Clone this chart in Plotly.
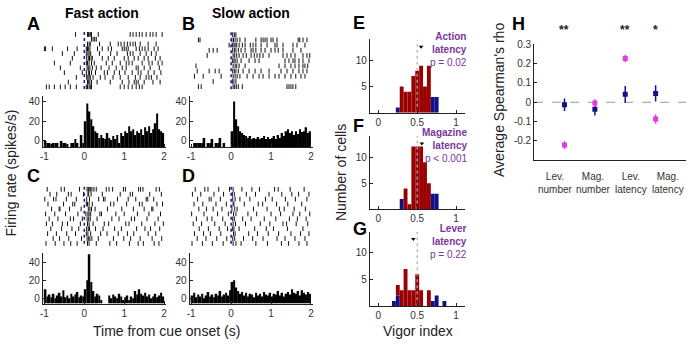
import plotly.graph_objects as go

# ---------------- data ----------------
PSTH_CENTERS = [round(-0.975 + 0.05 * i, 3) for i in range(60)]
PSTH_BASE = -6

psth_A = [0, -2, -2, -3, -2, -2, -2, -6, 0, -2, -2, -3, -6, -2, -2, 2, -2, -6, 6, -2,
          20, 38, 30, 22, 15, 10, 8, 3, 6, 3, 2, 8, 3, 1, 5, 2, 6, -2, 8, 5,
          10, 8, 15, 10, 12, 6, 10, 8, 12, 6, 14, 10, 15, 8, 12, 18, 28, 12, 10, 8]
psth_B = [-6, -2, -2, -2, -2, -2, 3, -6, -2, -2, 2, -6, -2, -2, 3, -6, -2, -6, -6, -6,
          10, 40, 22, 15, 10, 8, 6, 5, 3, 5, 2, 3, 2, 4, 2, 3, 5, 2, 4, 2,
          3, 5, 2, 6, 3, 8, 5, 10, 12, 8, 10, 6, 10, 7, 12, 9, 10, 14, 8, 10]
psth_C = [10, 2, 4, 1, 5, 0, 3, 6, 2, 9, 1, 3, 0, 5, 2, 4, 7, 1, 3, 2,
          10, 20, 49, 18, 8, 2, 5, 3, -2, -6, -6, -6, 3, 0, 4, 2, 0, 5, 2, -2,
          1, 3, -2, 2, 0, 8, 4, 10, 5, 3, 6, 2, 4, 0, 2, 5, 1, 3, 6, 2]
psth_D = [3, 6, 1, 4, 2, 5, 0, 3, 7, 2, 4, 1, 5, 3, 8, 2, 4, 6, 3, 9,
          18, 20, 12, 8, 5, 7, 3, 6, 2, 5, 4, 1, 6, 3, 5, 2, 7, 4, 3, 6,
          2, 5, 4, 8, 3, 6, 2, 5, 7, 4, 10, 6, 5, 8, 3, 9, 6, 4, 7, 5]

raster_A = [
    [-0.22, 0.08, 0.1, 0.12, 0.15, 0.18, 0.35, 1.15, 1.22, 1.3, 1.38, 1.45, 1.55, 1.65, 1.72, 1.8, 1.95],
    [0.18, 0.22, 0.26, 0.3],
    [0.08, 0.12, 0.15, 0.38, 0.65, 0.85, 0.92, 1.0, 1.08, 1.15, 1.22, 1.28, 1.4, 1.6, 1.8],
    [-1.0, -0.97, -0.8, -0.42, -0.18, 0.05, 0.08, 0.1, 0.14, 0.33, 0.45, 0.6, 0.68, 0.95, 1.0, 1.05, 1.1, 1.3, 1.38, 1.45, 1.52, 1.6, 1.75, 1.85],
    [-0.55, -0.25, 0.05, 0.09, 0.12, 0.16, 0.38, 0.66, 0.82, 1.08, 1.15, 1.22, 1.4, 1.55, 1.68, 1.8],
    [-0.3, 0.06, 0.1, 0.13, 0.17, 0.2, 0.45, 0.6, 0.75, 1.0, 1.1, 1.25, 1.35, 1.5, 1.6, 1.78, 1.9],
    [-0.75, -0.35, 0.05, 0.08, 0.12, 0.18, 0.25, 0.55, 0.7, 0.9, 1.05, 1.12, 1.2, 1.45, 1.62, 1.7, 1.85, 1.95],
    [-0.6, -0.1, 0.07, 0.1, 0.14, 0.2, 0.3, 0.42, 0.62, 0.8, 0.95, 1.05, 1.3, 1.35, 1.5, 1.65, 1.88],
    [-0.5, -0.05, 0.05, 0.1, 0.13, 0.18, 0.28, 0.5, 0.58, 0.75, 0.88, 1.02, 1.2, 1.35, 1.42, 1.6, 1.75, 1.92],
    [-0.2, 0.06, 0.09, 0.12, 0.15, 0.22, 0.4, 0.52, 0.72, 0.9, 1.1, 1.28, 1.4, 1.55, 1.62, 1.68, 1.82],
    [-0.4, 0.08, 0.11, 0.14, 0.18, 0.32, 0.65, 0.95, 1.12, 1.25, 1.3, 1.35, 1.5, 1.72, 1.9],
    [-0.95, -0.88, -0.75, -0.6, -0.48, -0.35, -0.2, 0.05, 0.08, 0.12, 0.15, 0.18, 0.9, 1.0, 1.1, 1.2, 1.3, 1.38, 1.45],
]
raster_B = [
    [0.04, 0.08, 0.12],
    [-0.82, -0.78, 0.02, 0.06, 0.1, 0.15, 0.22, 0.35, 0.62, 0.75, 0.8, 0.85, 0.9, 1.0, 1.05, 1.15, 1.68, 1.72, 1.8, 1.9],
    [-0.05, 0.03, 0.07, 0.1, 0.14, 0.2, 0.28, 0.35, 0.48, 0.55, 0.62, 0.75, 0.9, 1.1, 1.15, 1.3, 1.55, 1.65, 1.85],
    [-0.55, -0.45, -0.35, 0.04, 0.08, 0.12, 0.18, 0.25, 0.35, 0.5, 0.55, 0.62, 0.75, 0.85, 1.0, 1.1, 1.18, 1.3, 1.55, 1.75],
    [-0.6, 0.05, 0.09, 0.14, 0.2, 0.3, 0.38, 0.5, 0.58, 0.65, 0.72, 0.8, 0.95, 1.3, 1.4, 1.5, 1.6, 1.8, 1.9, 1.97],
    [0.03, 0.07, 0.1, 0.15, 0.25, 0.45, 0.6, 0.7, 1.35, 1.45, 1.55, 1.6, 1.7, 1.8, 1.95],
    [-0.88, 0.05, 0.1, 0.14, 0.2, 0.35, 1.2, 1.35, 1.5, 1.6, 1.7, 1.8, 1.85, 1.92],
    [-0.85, -0.55, -0.4, -0.3, 0.04, 0.08, 0.12, 0.18, 0.3, 0.45, 0.6, 0.75, 0.95, 1.25, 1.4, 1.55, 1.7, 1.8, 1.9],
    [-0.92, -0.7, -0.25, 0.05, 0.1, 0.15, 0.22, 0.4, 0.55, 0.7, 0.8, 0.95, 1.1, 1.2, 1.35, 1.5, 1.62, 1.75, 1.85],
    [-0.45, 0.03, 0.07, 0.12],
    [-0.82, -0.75, 0.05, 0.09, 0.13, 0.18, 0.28, 1.4, 1.45, 1.5, 1.55, 1.62],
]
raster_C = [
    [-0.93, -0.58, -0.5, -0.12, 0.07, 0.1, 0.12, 0.15, 0.19, 0.24, 0.3, 0.55, 0.62, 0.71, 0.98, 1.03, 1.36, 1.41, 1.47, 1.8, 1.88],
    [-0.86, -0.69, -0.4, -0.33, -0.02, 0.09, 0.11, 0.17, 0.45, 0.9, 1.15, 1.21, 1.64, 1.93],
    [-0.99, -0.77, -0.71, -0.45, -0.2, 0.06, 0.13, 0.36, 0.48, 0.52, 0.83, 1.1, 1.29, 1.55, 1.59, 1.74],
    [-0.91, -0.52, -0.29, -0.24, 0.05, 0.08, 0.12, 0.2, 0.66, 0.74, 1.06, 1.38, 1.45, 1.82, 1.96],
    [-0.82, -0.63, -0.61, -0.37, -0.08, 0.1, 0.14, 0.18, 0.27, 0.58, 0.94, 1.23, 1.5, 1.69, 1.72],
    [-0.97, -0.74, -0.47, -0.16, 0.04, 0.09, 0.12, 0.16, 0.39, 0.43, 0.79, 1.0, 1.33, 1.62, 1.91],
    [-0.88, -0.66, -0.35, -0.27, -0.05, 0.07, 0.11, 0.15, 0.32, 0.69, 0.87, 1.18, 1.26, 1.57, 1.85],
    [-0.95, -0.8, -0.55, -0.42, -0.1, 0.08, 0.12, 0.22, 0.5, 0.61, 1.04, 1.12, 1.44, 1.77, 1.98],
    [-0.84, -0.57, -0.31, -0.14, 0.06, 0.1, 0.13, 0.28, 0.47, 0.76, 0.93, 1.31, 1.52, 1.66, 1.89],
    [-0.92, -0.7, -0.44, -0.22, 0.05, 0.09, 0.16, 0.41, 0.57, 0.85, 1.08, 1.24, 1.6, 1.79],
    [-0.78, -0.62, -0.39, -0.07, 0.07, 0.11, 0.14, 0.19, 0.35, 0.73, 0.99, 1.16, 1.4, 1.7, 1.94],
    [-0.96, -0.73, -0.51, -0.34, -0.18, 0.08, 0.12, 0.3, 0.64, 0.81, 1.13, 1.35, 1.48, 1.75, 1.87],
]
raster_D = [
    [-0.9, -0.66, -0.58, -0.31, -0.04, 0.05, 0.27, 0.52, 0.71, 1.09, 1.18, 1.48, 1.83],
    [-0.97, -0.76, -0.43, -0.19, 0.03, 0.08, 0.38, 0.61, 0.95, 1.27, 1.52, 1.69, 1.95],
    [-0.84, -0.55, -0.5, -0.27, 0.04, 0.1, 0.22, 0.47, 0.86, 1.03, 1.36, 1.61, 1.9],
    [-0.93, -0.71, -0.38, -0.12, 0.05, 0.07, 0.33, 0.68, 0.79, 1.14, 1.42, 1.77],
    [-0.81, -0.62, -0.45, -0.23, 0.02, 0.09, 0.15, 0.56, 0.9, 1.21, 1.33, 1.58, 1.86],
    [-0.99, -0.68, -0.34, -0.07, 0.06, 0.12, 0.42, 0.64, 1.0, 1.24, 1.55, 1.72, 1.97],
    [-0.87, -0.6, -0.48, -0.21, 0.04, 0.08, 0.29, 0.5, 0.83, 1.12, 1.46, 1.66, 1.88],
    [-0.95, -0.74, -0.41, -0.15, 0.05, 0.11, 0.36, 0.73, 0.97, 1.3, 1.39, 1.63, 1.92],
    [-0.8, -0.57, -0.3, -0.09, 0.03, 0.07, 0.2, 0.59, 0.88, 1.06, 1.41, 1.8],
    [-0.92, -0.69, -0.52, -0.26, 0.06, 0.1, 0.44, 0.66, 0.93, 1.19, 1.5, 1.74, 1.95],
    [-0.85, -0.63, -0.36, -0.11, 0.04, 0.09, 0.31, 0.54, 0.8, 1.15, 1.35, 1.6, 1.85],
    [-0.98, -0.72, -0.47, -0.2, 0.05, 0.12, 0.25, 0.62, 0.91, 1.26, 1.44, 1.7, 1.9],
]

HIST_CENTERS = [0.2, 0.25, 0.3, 0.35, 0.4, 0.45, 0.5, 0.55, 0.6, 0.65, 0.7, 0.75, 0.8, 0.85]
E_blue = [0, 1, 0, 0, 0, 0, 0, 0, 0, 0, 3, 3, 0, 0]
E_red = [0, 0, 5, 4, 4, 7, 8, 9, 5, 9, 0, 0, 0, 0]
F_blue = [0, 0, 2, 0, 0, 0, 0, 0, 0, 0, 3, 3, 0, 0]
F_red = [0, 0, 0, 4, 1, 12, 12, 12, 9, 5, 0, 0, 0, 0]
G_blue = [1, 2, 0, 0, 0, 0, 0, 0, 0, 0, 1, 2, 0, 1]
G_red = [0, 2, 3, 7, 3, 3, 6, 3, 0, 3, 0, 0, 0, 0]
hist_means = [0.55, 0.56, 0.45]
hist_labels = [("Action", "latency", "p = 0.02"),
               ("Magazine", "latency", "p < 0.001"),
               ("Lever", "latency", "p = 0.22")]

H_pos = [1, 2, 3, 4]
H_cats = [("Lev.", "number"), ("Mag.", "number"), ("Lev.", "latency"), ("Mag.", "latency")]
H_blue = [-0.013, -0.036, 0.041, 0.046]
H_blue_err = [0.032, 0.033, 0.043, 0.042]
H_pink = [-0.222, -0.004, 0.227, -0.087]
H_pink_err = [0.02, 0.02, 0.02, 0.025]
H_stars = ["**", "", "**", "*"]

# ---------------- layout helpers ----------------
W, Hh = 688, 344
def fx(p): return p / W
def fy(p): return 1 - p / Hh

FONT = "Liberation Sans, Arial, sans-serif"
TICKC = "#333333"
NAVY = "#10108a"
DRED = "#990000"
PINK = "#e03ce0"
PURPLE = "#7a35a0"

fig = go.Figure()
layout = dict(width=W, height=Hh, margin=dict(l=0, r=0, t=0, b=0),
              paper_bgcolor="white", plot_bgcolor="rgba(0,0,0,0)",
              showlegend=False, barmode="overlay", font=dict(family=FONT, size=10, color=TICKC))
annotations = []

def ax_name(i): return "" if i == 1 else str(i)

def hidden_axis(dom, rng):
    return dict(domain=dom, range=rng, visible=False, showgrid=False, zeroline=False)

panels = [
    ("A", raster_A, psth_A, 40.1, 27, 86, 92, 144, [-6, 46]),
    ("B", raster_B, psth_B, 188.0, 27, 86, 92, 144, [-6, 46]),
    ("C", raster_C, psth_C, 40.1, 184, 245, 252, 303, [-6, 50]),
    ("D", raster_D, psth_D, 188.0, 184, 245, 252, 303, [-6, 50]),
]
XR = [-1.04, 2.04]
k = 1
for name, raster, psth, x0, ry0, ry1, py0, py1, yr in panels:
    xdom = [fx(x0), fx(x0 + 123.8)]
    n = len(raster)
    xs, ys = [], []
    for r, row in enumerate(raster):
        xs += row
        ys += [r + 1] * len(row)
    xa, ya = "x" + ax_name(k), "y" + ax_name(k)
    fig.add_trace(go.Scatter(x=xs, y=ys, mode="markers", xaxis=xa, yaxis=ya,
                             marker=dict(symbol="line-ns", size=3.4, line=dict(width=1, color="#111111"))))
    fig.add_trace(go.Scatter(x=[0, 0], y=[0.5, n + 0.5], mode="lines", xaxis=xa, yaxis=ya,
                             line=dict(color="#2020b0", width=1.6, dash="dot")))
    layout["xaxis" + ax_name(k)] = hidden_axis(xdom, XR)
    layout["yaxis" + ax_name(k)] = hidden_axis([fy(ry1), fy(ry0)], [n + 0.6, 0.4])
    k += 1
    xa, ya = "x" + ax_name(k), "y" + ax_name(k)
    fig.add_trace(go.Bar(x=PSTH_CENTERS, y=[v - PSTH_BASE for v in psth], base=PSTH_BASE,
                         width=0.05, xaxis=xa, yaxis=ya,
                         marker=dict(color="black", line=dict(width=0))))
    layout["xaxis" + ax_name(k)] = dict(domain=xdom, range=XR, anchor=ya, showline=True, linecolor="#222",
                                        linewidth=1, tickvals=[-1, 0, 1, 2], ticktext=["-1", "0", "1", "2"],
                                        ticks="inside", ticklen=3, tickcolor="#222",
                                        showgrid=False, zeroline=False, tickfont=dict(size=10, color=TICKC))
    layout["yaxis" + ax_name(k)] = dict(domain=[fy(py1), fy(py0)], range=yr, anchor=xa, showline=True,
                                        linecolor="#222", linewidth=1, tickvals=[0, 20, 40],
                                        ticks="inside", ticklen=3, tickcolor="#222",
                                        showgrid=False, zeroline=False, tickfont=dict(size=10, color=TICKC))
    k += 1

hists = [("E", E_blue, E_red, 35, 109.3, 18), ("F", F_blue, F_red, 133, 207.5, 123), ("G", G_blue, G_red, 230, 305.7, 227)]
for j, (name, blue, red, y0, y1, ly) in enumerate(hists):
    xa, ya = "x" + ax_name(k), "y" + ax_name(k)
    fig.add_trace(go.Bar(x=HIST_CENTERS, y=blue, width=0.05, xaxis=xa, yaxis=ya,
                         marker=dict(color=NAVY, line=dict(width=0))))
    fig.add_trace(go.Bar(x=HIST_CENTERS, y=red, base=blue, width=0.05, xaxis=xa, yaxis=ya,
                         marker=dict(color=DRED, line=dict(width=0))))
    fig.add_trace(go.Scatter(x=[0.5, 0.5], y=[0, 14], mode="lines", xaxis=xa, yaxis=ya,
                             line=dict(color="#b0b0b0", width=1.2, dash="dot")))
    fig.add_trace(go.Scatter(x=[hist_means[j]], y=[12.6], mode="markers", xaxis=xa, yaxis=ya,
                             marker=dict(symbol="triangle-down", size=4, color="black")))
    layout["xaxis" + ax_name(k)] = dict(domain=[fx(369.5), fx(465)], range=[-0.11, 1.11], anchor=ya,
                                        showline=True, linecolor="#222", linewidth=1,
                                        tickvals=[0, 0.5, 1], ticktext=["0", "0.5", "1"],
                                        ticks="inside", ticklen=3, tickcolor="#222",
                                        showgrid=False, zeroline=False, tickfont=dict(size=10, color=TICKC))
    layout["yaxis" + ax_name(k)] = dict(domain=[fy(y1), fy(y0)], range=[0, 14], anchor=xa,
                                        showline=True, linecolor="#222", linewidth=1,
                                        tickvals=[5, 10], ticks="inside", ticklen=3, tickcolor="#222",
                                        showgrid=False, zeroline=False, tickfont=dict(size=10, color=TICKC))
    t1, t2, t3 = hist_labels[j]
    annotations.append(dict(text="<b>%s</b><br><b>%s</b><br>%s" % (t1, t2, t3), x=fx(469), y=fy(y0 - 11),
                            xref="paper", yref="paper", xanchor="right", yanchor="top", align="right",
                            showarrow=False, font=dict(size=10, color=PURPLE, family=FONT)))
    annotations.append(dict(text="<b>%s</b>" % name, x=fx(351), y=fy(ly), xref="paper", yref="paper",
                            xanchor="left", yanchor="middle", showarrow=False,
                            font=dict(size=18, color="black", family=FONT)))
    k += 1

xa, ya = "x" + ax_name(k), "y" + ax_name(k)
fig.add_trace(go.Scatter(x=[0, 5], y=[0, 0], mode="lines", xaxis=xa, yaxis=ya,
                         line=dict(color="#999999", width=1, dash="dash")))
fig.add_trace(go.Scatter(x=H_pos, y=H_blue, mode="markers", xaxis=xa, yaxis=ya,
                         error_y=dict(type="data", array=H_blue_err, width=0, thickness=1.5, color=NAVY),
                         marker=dict(symbol="square", size=5, color=NAVY)))
fig.add_trace(go.Scatter(x=H_pos, y=H_pink, mode="markers", xaxis=xa, yaxis=ya,
                         error_y=dict(type="data", array=H_pink_err, width=0, thickness=1.5, color=PINK),
                         marker=dict(symbol="square", size=5, color=PINK)))
layout["xaxis" + ax_name(k)] = dict(domain=[fx(535), fx(688)], range=[0, 5], anchor=ya, showline=True,
                                    linecolor="#222", linewidth=1, showticklabels=False, ticks="",
                                    showgrid=False, zeroline=False)
layout["yaxis" + ax_name(k)] = dict(domain=[fy(157.4), fy(40)], range=[-0.3, 0.3], anchor=xa, showline=True,
                                    linecolor="#222", linewidth=1,
                                    tickvals=[-0.2, -0.1, 0, 0.1, 0.2, 0.3],
                                    ticktext=["-0.2", "-0.1", "0", "0.1", "0.2", "0.3"],
                                    ticks="inside", ticklen=3, tickcolor="#222",
                                    showgrid=False, zeroline=False, tickfont=dict(size=10, color=TICKC))
cat_px = [557, 595, 633, 670]
for (a, b), px in zip(H_cats, cat_px):
    annotations.append(dict(text="%s<br>%s" % (a, b), x=fx(px), y=fy(166), xref="paper", yref="paper",
                            xanchor="center", yanchor="top", showarrow=False,
                            font=dict(size=10, color=TICKC, family=FONT)))
for s, p in zip(H_stars, H_pos):
    if s:
        annotations.append(dict(text="<b>%s</b>" % s, x=p, y=0.3, xref=xa, yref=ya, yshift=14,
                                xanchor="center", yanchor="middle", showarrow=False,
                                font=dict(size=12, color="#222", family=FONT)))

for t, px, py in [("A", 22, 19), ("B", 178, 19), ("C", 22, 174), ("D", 178, 174), ("H", 511, 19)]:
    annotations.append(dict(text="<b>%s</b>" % t, x=fx(px), y=fy(py), xref="paper", yref="paper",
                            xanchor="left", yanchor="middle", showarrow=False,
                            font=dict(size=18, color="black", family=FONT)))
for t, px in [("Fast action", 100), ("Slow action", 250)]:
    annotations.append(dict(text="<b>%s</b>" % t, x=fx(px), y=fy(8), xref="paper", yref="paper",
                            xanchor="center", yanchor="middle", showarrow=False,
                            font=dict(size=14, color="black", family=FONT)))
annotations += [
    dict(text="Firing rate (spikes/s)", x=fx(8), y=fy(170), textangle=-90),
    dict(text="Time from cue onset (s)", x=fx(165), y=fy(331)),
    dict(text="Number of cells", x=fx(340), y=fy(170), textangle=-90),
    dict(text="Vigor index", x=fx(418), y=fy(331)),
    dict(text="Average Spearman's rho", x=fx(499), y=fy(96), textangle=-90),
]
for a in annotations[-5:]:
    a.update(xref="paper", yref="paper", xanchor="center", yanchor="middle", showarrow=False,
             font=dict(size=14, color="#222", family=FONT))

layout["annotations"] = annotations
fig.update_layout(**layout)
fig.write_html("out.html", config={"displayModeBar": False},
               post_script="document.body.style.margin='0';document.body.style.padding='0';")
